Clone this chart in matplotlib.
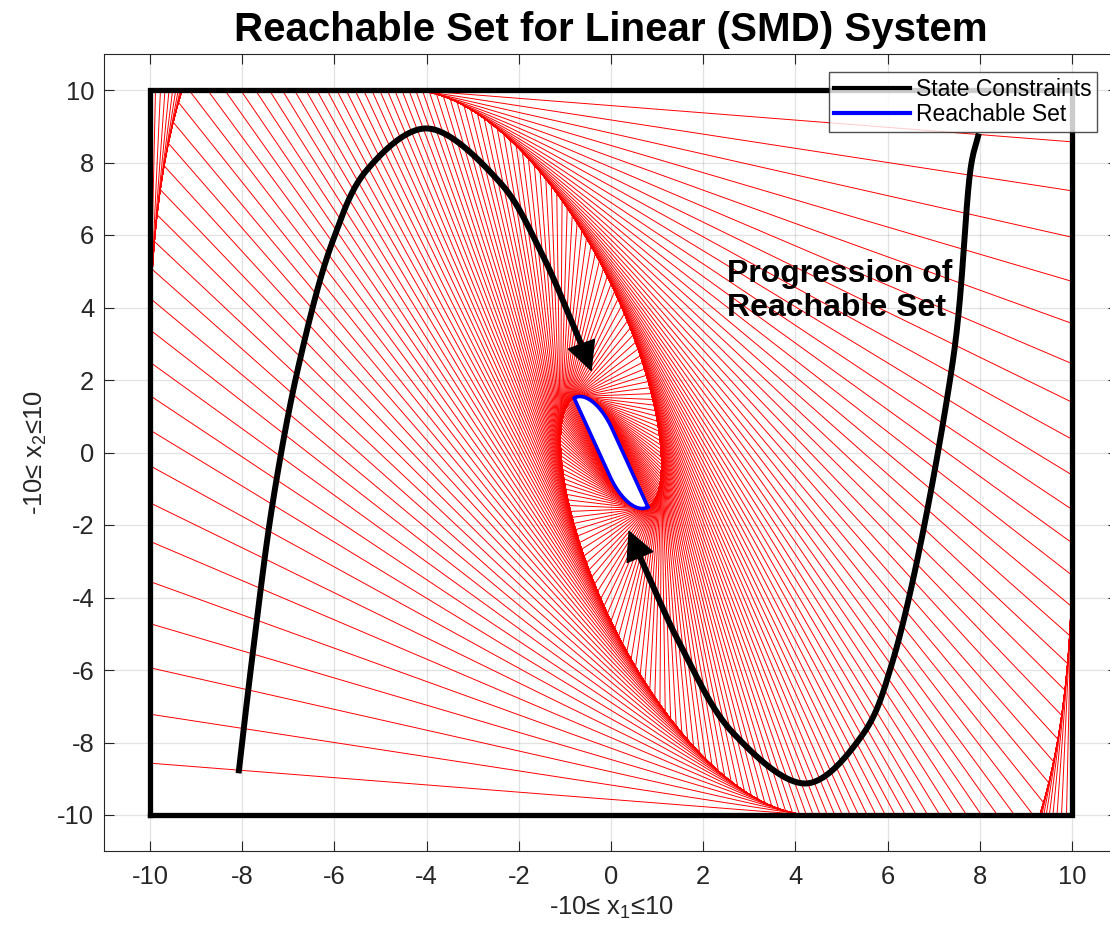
import numpy as np
import matplotlib
matplotlib.use("Agg")
import matplotlib.pyplot as plt
from matplotlib.lines import Line2D
from matplotlib.patches import FancyArrowPatch, ArrowStyle
from matplotlib.collections import LineCollection

# ---------------- data ----------------
STATE_BOUND = 10.0                    # |x1| <= 10, |x2| <= 10
A_ROW1 = [1.0040, 0.0167]             # discrete-time SMD transition matrix
A_ROW2 = [-0.1004, 0.95533]
N_STEPS = 130                         # number of reachable-set iterations

ARROW1_X = [-8.08, -7.79, -7.33, -6.75, -6.03, -5.30, -4.00, -2.41, -1.54, -0.61]
ARROW1_Y = [-8.85, -5.72, -1.31, 2.55, 5.86, 7.79, 8.94, 7.45, 5.59, 2.88]
ARROW1_TIP = (-0.42, 2.23)
ARROW2_X = [7.98, 7.82, 7.42, 6.12, 5.45, 4.24, 2.65, 1.56, 0.62]
ARROW2_Y = [8.80, 7.98, 2.55, -5.72, -7.80, -9.13, -7.74, -5.45, -2.86]
ARROW2_TIP = (0.38, -2.14)

X_TICKS = list(range(-10, 11, 2))
Y_TICKS = list(range(-10, 11, 2))
TITLE = "Reachable Set for Linear (SMD) System"
XLABEL = "-10\u2264 x$_1$\u226410"
YLABEL = "-10\u2264 x$_2$\u226410"
LEGEND_LABELS = ["State Constraints", "Reachable Set"]
NOTE = "Progression of\nReachable Set"

# ---------------- set sequence ----------------
A = np.array([A_ROW1, A_ROW2])
b = STATE_BOUND
box = np.array([[-b, -b], [b, -b], [b, b], [-b, b]], dtype=float)


def clip_halfplane(P, nrm, c):
    out = []
    m = len(P)
    for i in range(m):
        cur, nxt = P[i], P[(i + 1) % m]
        dc, dn = nrm @ cur - c, nrm @ nxt - c
        if dc <= 0:
            out.append(cur)
        if dc * dn < 0:
            t = dc / (dc - dn)
            out.append(cur + t * (nxt - cur))
    return np.array(out)


def clip_box(P):
    for nrm in ([1, 0], [-1, 0], [0, 1], [0, -1]):
        P = clip_halfplane(P, np.array(nrm, float), b)
    return P


sets = [box]
for _ in range(N_STEPS):
    sets.append(clip_box(sets[-1] @ A.T))

# ---------------- figure ----------------
plt.rcParams["font.family"] = ["Liberation Sans", "DejaVu Sans"]
plt.rcParams["mathtext.fontset"] = "custom"
plt.rcParams["mathtext.rm"] = "Liberation Sans"
plt.rcParams["mathtext.it"] = "Liberation Sans:italic"

W, H = 1110, 926
fig = plt.figure(figsize=(W / 100, H / 100), dpi=100)
x_left, x_right = 104, 1118
y_top, y_bot = 53.75, 851.25
ax = fig.add_axes([x_left / W, 1 - y_bot / H, (x_right - x_left) / W, (y_bot - y_top) / H])
ax.set_xlim(-11, 11)
ax.set_ylim(-11, 11)

axc = "#262626"
ax.set_xticks(X_TICKS)
ax.set_yticks(Y_TICKS)
ax.set_xticklabels([str(v) for v in X_TICKS])
ax.set_yticklabels([str(v) for v in Y_TICKS])
ax.tick_params(direction="in", length=7, width=0.8, colors=axc, labelsize=18.4,
               top=True, right=True)
ax.tick_params(axis="x", pad=10)
ax.tick_params(axis="y", pad=7)
for s in ax.spines.values():
    s.set_color(axc)
    s.set_linewidth(0.8)
ax.grid(True, color=axc, alpha=0.13, lw=0.9)
ax.set_axisbelow(True)

segs = [np.vstack([P, P[:1]]) for P in sets[1:-1] if len(P) > 2]
ax.add_collection(LineCollection(segs, colors="#ff0000", linewidths=0.7, zorder=2))

final = sets[-1]
ax.fill(final[:, 0], final[:, 1], color="white", zorder=3)
ax.plot(np.append(final[:, 0], final[0, 0]), np.append(final[:, 1], final[0, 1]),
        color="#0000ff", lw=2.6, zorder=4)

ax.plot(np.append(box[:, 0], box[0, 0]), np.append(box[:, 1], box[0, 1]),
        color="black", lw=3.8, zorder=5, solid_joinstyle="miter")


def centripetal_cr(xs, ys, n=40):
    """Centripetal Catmull-Rom path through annotation waypoints (display space)."""
    pts = ax.transData.transform(np.column_stack([xs, ys]))
    P = np.vstack([2 * pts[0] - pts[1], pts, 2 * pts[-1] - pts[-2]])
    out = []
    for i in range(1, len(P) - 2):
        p0, p1, p2, p3 = P[i - 1], P[i], P[i + 1], P[i + 2]
        t0 = 0.0
        t1 = t0 + np.linalg.norm(p1 - p0) ** 0.5
        t2 = t1 + np.linalg.norm(p2 - p1) ** 0.5
        t3 = t2 + np.linalg.norm(p3 - p2) ** 0.5
        t = np.linspace(t1, t2, n, endpoint=False)[:, None]
        a1 = (t1 - t) / (t1 - t0) * p0 + (t - t0) / (t1 - t0) * p1
        a2 = (t2 - t) / (t2 - t1) * p1 + (t - t1) / (t2 - t1) * p2
        a3 = (t3 - t) / (t3 - t2) * p2 + (t - t2) / (t3 - t2) * p3
        b1 = (t2 - t) / (t2 - t0) * a1 + (t - t0) / (t2 - t0) * a2
        b2 = (t3 - t) / (t3 - t1) * a2 + (t - t1) / (t3 - t1) * a3
        out.append((t2 - t) / (t2 - t1) * b1 + (t - t1) / (t2 - t1) * b2)
    out.append(P[-2][None])
    return ax.transData.inverted().transform(np.vstack(out))


for xs, ys, tip in ((ARROW1_X, ARROW1_Y, ARROW1_TIP), (ARROW2_X, ARROW2_Y, ARROW2_TIP)):
    c = centripetal_cr(xs, ys)
    ax.plot(c[:, 0], c[:, 1], color="black", lw=4.3, zorder=6, solid_capstyle="butt")
    arr = FancyArrowPatch(posA=(xs[-1], ys[-1]), posB=tip,
                          arrowstyle=ArrowStyle("-|>", head_length=1.0, head_width=0.5),
                          mutation_scale=20, color="black", lw=1, zorder=7,
                          shrinkA=0, shrinkB=0)
    ax.add_patch(arr)

ax.text(2.52, 4.45, NOTE, fontsize=23, fontweight="bold", ha="left", va="center",
        linespacing=1.2, zorder=8)

ax.set_title(TITLE, fontsize=29, fontweight="bold", pad=9)
ax.set_xlabel(XLABEL, fontsize=18.4, color=axc, labelpad=4)
ax.set_ylabel(YLABEL, fontsize=18.4, color=axc, labelpad=6)

handles = [Line2D([], [], color="black", lw=3), Line2D([], [], color="#0000ff", lw=3)]
leg = fig.legend(handles, LEGEND_LABELS, loc="upper right",
                 bbox_to_anchor=(1097 / W, 1 - 72 / H), bbox_transform=fig.transFigure,
                 fontsize=16.5, frameon=True, fancybox=False, borderpad=0.25,
                 labelspacing=0.1, handlelength=3.3, handletextpad=0.25, borderaxespad=0)
leg.get_frame().set_edgecolor("#262626")
leg.get_frame().set_linewidth(1.0)
leg.set_zorder(10)

fig.savefig("out.png", dpi=100)
